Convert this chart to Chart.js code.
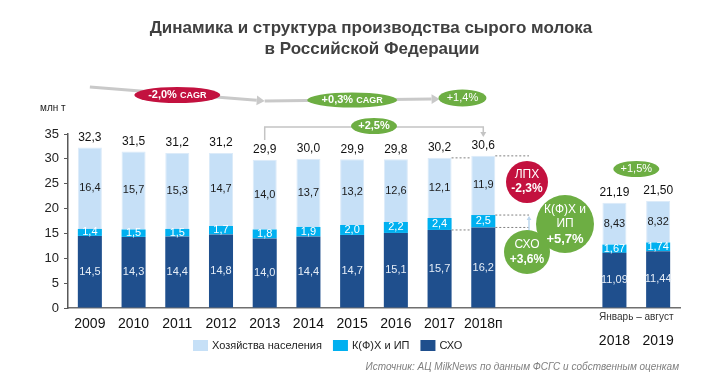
<!DOCTYPE html>
<html>
<head>
<meta charset="utf-8">
<script src="https://cdn.jsdelivr.net/npm/chart.js@4"></script>
<style>
html, body { margin: 0; padding: 0; background: #fff; }
#wrap { position: relative; width: 706px; height: 392px; }
</style>
</head>
<body>
<div id="wrap"><canvas id="milk" width="706" height="392"></canvas></div>
<script>
// производство сырого молока, млн т (две пустые категории - разрыв перед янв-авг)
var years = ['2009', '2010', '2011', '2012', '2013', '2014', '2015', '2016', '2017', '2018п', '', '', '2018', '2019'];
var sxo = [14.5, 14.3, 14.4, 14.8, 14.0, 14.4, 14.7, 15.1, 15.7, 16.2, null, null, 11.09, 11.44];
var kfh = [1.4, 1.5, 1.5, 1.7, 1.8, 1.9, 2.0, 2.2, 2.4, 2.5, null, null, 1.67, 1.74];
var lph = [16.4, 15.7, 15.3, 14.7, 14.0, 13.7, 13.2, 12.6, 12.1, 11.9, null, null, 8.43, 8.32];
var totals = [32.3, 31.5, 31.2, 31.2, 29.9, 30.0, 29.9, 29.8, 30.2, 30.6, null, null, 21.19, 21.50];
var names = ['СХО', 'К(Ф)Х и ИП', 'Хозяйства населения'];
var colors = ['#1F4F8D', '#00B0F0', '#C6E0F7'];

var FONT = "'Liberation Sans', Arial, sans-serif";
var RED = '#C3113F';
var GREEN = '#6DAE43';

function fmt(v, i) {
    return v.toFixed(i >= 12 ? 2 : 1).replace('.', ',');
}

function arrow(ctx, x1, y1, x2, y2, color, w, head) {
    ctx.save();
    ctx.strokeStyle = color;
    ctx.fillStyle = color;
    ctx.lineWidth = w;
    var a = Math.atan2(y2 - y1, x2 - x1);
    ctx.beginPath();
    ctx.moveTo(x1, y1);
    ctx.lineTo(x2 - Math.cos(a) * head, y2 - Math.sin(a) * head);
    ctx.stroke();
    ctx.beginPath();
    ctx.moveTo(x2, y2);
    ctx.lineTo(x2 - Math.cos(a) * head - Math.sin(a) * head * 0.6, y2 - Math.sin(a) * head + Math.cos(a) * head * 0.6);
    ctx.lineTo(x2 - Math.cos(a) * head + Math.sin(a) * head * 0.6, y2 - Math.sin(a) * head - Math.cos(a) * head * 0.6);
    ctx.closePath();
    ctx.fill();
    ctx.restore();
}

function blob(ctx, x, y, rx, ry, color) {
    ctx.beginPath();
    ctx.ellipse(x, y, rx, ry, 0, 0, Math.PI * 2);
    ctx.fillStyle = color;
    ctx.fill();
}

// текст "+0,3% CAGR" из двух частей разного размера
function cagrText(ctx, x, y, big, small) {
    ctx.font = 'bold 11px ' + FONT;
    var w1 = ctx.measureText(big + ' ').width;
    ctx.font = 'bold 9px ' + FONT;
    var w2 = ctx.measureText(small).width;
    var x0 = x - (w1 + w2) / 2;
    ctx.fillStyle = '#fff';
    ctx.textAlign = 'left';
    ctx.textBaseline = 'middle';
    ctx.font = 'bold 11px ' + FONT;
    ctx.fillText(big, x0, y);
    ctx.font = 'bold 9px ' + FONT;
    ctx.fillText(small, x0 + w1, y + 1);
}

function lines(ctx, x, y, rows) {
    ctx.textAlign = 'center';
    ctx.textBaseline = 'middle';
    ctx.fillStyle = '#fff';
    rows.forEach(function(r) {
        ctx.font = r[2] + FONT;
        ctx.fillText(r[0], x, y + r[1]);
    });
}

var extras = {
    id: 'extras',
    afterDatasetsDraw: function(chart) {
        var ctx = chart.ctx;
        ctx.save();
        ctx.textAlign = 'center';
        ctx.textBaseline = 'middle';
        var labelColors = ['#E6EEF7', '#ffffff', '#1a1a1a'];
        chart.data.datasets.forEach(function(ds, d) {
            var meta = chart.getDatasetMeta(d);
            meta.data.forEach(function(bar, i) {
                if (ds.data[i] == null) return;
                ctx.font = '11px ' + FONT;
                ctx.fillStyle = labelColors[d];
                ctx.fillText(fmt(ds.data[i], i), bar.x, (bar.y + bar.base) / 2);
                if (d == 2) {
                    ctx.font = '12px ' + FONT;
                    ctx.fillStyle = '#111';
                    ctx.fillText(fmt(totals[i], i), bar.x, bar.y - 10);
                }
            });
        });
        ctx.restore();
    },
    afterDraw: function(chart) {
        var ctx = chart.ctx;
        var xs = chart.scales.x, ys = chart.scales.y;
        var top = chart.chartArea.top;
        var x = function(i) { return xs.getPixelForValue(i); };
        var y = function(v) { return ys.getPixelForValue(v); };
        var half = 12;
        ctx.save();

        // заголовок
        ctx.fillStyle = '#404040';
        ctx.textAlign = 'center';
        ctx.textBaseline = 'middle';
        ctx.font = 'bold 17px ' + FONT;
        ctx.fillText('Динамика и структура производства сырого молока', 371, 28);
        ctx.fillText('в Российской Федерации', 372, 49);

        ctx.font = '10px ' + FONT;
        ctx.fillStyle = '#222';
        ctx.textAlign = 'left';
        ctx.fillText('млн т', 40, 108);

        // стрелки CAGR
        arrow(ctx, x(0), top - 47, x(4), top - 33, '#C9C9C9', 3, 8);
        arrow(ctx, x(4), top - 33, x(8), top - 35, '#C9C9C9', 3, 8);
        blob(ctx, x(2), top - 39, 43, 8, RED);
        cagrText(ctx, x(2), top - 39, '-2,0%', 'CAGR');
        blob(ctx, x(6), top - 34, 45, 7.5, GREEN);
        cagrText(ctx, x(6), top - 34, '+0,3%', 'CAGR');
        blob(ctx, (x(8) + x(9)) / 2 + 1, top - 36, 24, 8.5, GREEN);
        lines(ctx, (x(8) + x(9)) / 2 + 1, top - 36, [['+1,4%', 0, '11px ']]);

        // скобка 2013 -> 2018п
        ctx.strokeStyle = '#C4C4C4';
        ctx.lineWidth = 1.5;
        ctx.beginPath();
        ctx.moveTo(x(4), top + 6);
        ctx.lineTo(x(4), top - 7);
        ctx.lineTo(x(9), top - 7);
        ctx.lineTo(x(9), top - 1);
        ctx.stroke();
        arrow(ctx, x(9), top - 2, x(9), top + 3, '#C4C4C4', 1.5, 5);
        blob(ctx, (x(6) + x(7)) / 2, top - 8, 23, 8, GREEN);
        lines(ctx, (x(6) + x(7)) / 2, top - 8, [['+2,5%', 0, 'bold 11px ']]);

        // пунктирные уровни у 2017-2018п
        var xr = x(10) + 2;
        ctx.strokeStyle = '#808080';
        ctx.lineWidth = 1;
        ctx.setLineDash([2, 2]);
        var dash = [
            [x(8) + half, x(9) - half, y(totals[8])],
            [x(9) + half, xr, y(totals[9])],
            [x(9) + half, xr, y(sxo[9] + kfh[9])],
            [x(9) + half, xr, y(sxo[9])],
            [x(8) + half, x(9) - half, y(sxo[8])]
        ];
        dash.forEach(function(d) {
            ctx.beginPath();
            ctx.moveTo(d[0], d[2]);
            ctx.lineTo(d[1], d[2]);
            ctx.stroke();
        });
        ctx.setLineDash([]);
        arrow(ctx, xr, y(sxo[9]) + 4, xr, y(sxo[9] + kfh[9]) + 1, '#BDD7EE', 1.5, 4);

        // кружки приростов
        blob(ctx, x(10), 182, 21, 21, RED);
        lines(ctx, x(10), 182, [['ЛПХ', -7, '12px '], ['-2,3%', 7, 'bold 12px ']]);
        blob(ctx, x(10) + 38, 224, 29, 29, GREEN);
        blob(ctx, x(10), 252, 23, 22, GREEN);
        lines(ctx, x(10) + 38, 224, [['К(Ф)Х и', -14, '12px '], ['ИП', 0, '12px '], ['+5,7%', 15, 'bold 13px ']]);
        lines(ctx, x(10), 252, [['СХО', -7, '12px '], ['+3,6%', 8, 'bold 12px ']]);
        var xm = (x(12) + x(13)) / 2;
        blob(ctx, xm, 169, 23, 8, GREEN);
        lines(ctx, xm, 169, [['+1,5%', 0, '11px ']]);

        ctx.fillStyle = '#333';
        ctx.font = '10px ' + FONT;
        ctx.textAlign = 'center';
        ctx.fillText('Январь – август', xm, 317);

        // легенда
        var lx = 193, ly = 346;
        ctx.textAlign = 'left';
        ctx.font = '11px ' + FONT;
        [2, 1, 0].forEach(function(d) {
            ctx.fillStyle = colors[d];
            ctx.fillRect(lx, ly - 6, 15, 11);
            ctx.fillStyle = '#222';
            ctx.fillText(names[d], lx + 19, ly);
            lx += 19 + ctx.measureText(names[d]).width + 11;
        });

        ctx.fillStyle = '#7F7F7F';
        ctx.font = 'italic 10px ' + FONT;
        ctx.textAlign = 'right';
        ctx.fillText('Источник: АЦ MilkNews по данным ФСГС и собственным оценкам', 679, 367);
        ctx.restore();
    }
};

var milkChart = new Chart(document.getElementById('milk').getContext('2d'), {
    type: 'bar',
    data: {
        labels: years,
        datasets: [0, 1, 2].map(function(d) {
            return {
                label: names[d],
                data: [sxo, kfh, lph][d],
                backgroundColor: colors[d],
                borderColor: d == 2 ? '#DCEBF9' : colors[d],
                borderWidth: d == 2 ? 1 : 0,
                barPercentage: 0.55,
                categoryPercentage: 1
            };
        })
    },
    options: {
        responsive: false,
        animation: false,
        layout: { padding: { top: 134, right: 26, left: 0, bottom: 0 } },
        plugins: { legend: { display: false }, tooltip: { enabled: false } },
        scales: {
            x: {
                stacked: true,
                grid: { display: false },
                border: { color: '#6f6f6f', width: 1.5 },
                ticks: {
                    autoSkip: false,
                    maxRotation: 0,
                    padding: 0,
                    color: '#111',
                    font: { family: FONT, size: 14 },
                    callback: function(v, i) { return i >= 12 ? ['', years[i]] : years[i]; }
                },
                afterFit: function(s) { s.height = 84; }
            },
            y: {
                stacked: true,
                min: 0,
                max: 35,
                grid: { drawOnChartArea: false, drawTicks: true, tickLength: 4, color: '#595959' },
                border: { color: '#595959', width: 1.5 },
                ticks: { stepSize: 5, padding: 5, color: '#222', font: { family: FONT, size: 13 } },
                afterFit: function(s) { s.width = 68; }
            }
        }
    },
    plugins: [extras]
});
</script>
</body>
</html>
